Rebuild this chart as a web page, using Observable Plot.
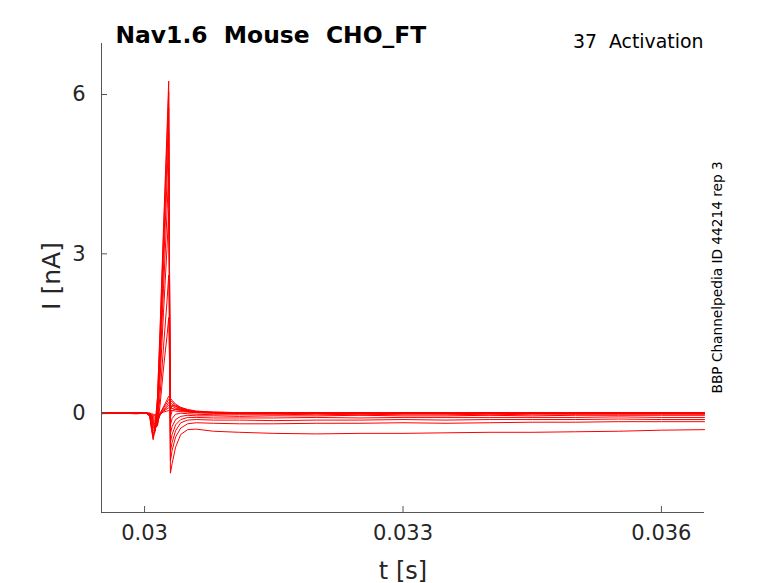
<!DOCTYPE html>
<html><head><meta charset="utf-8">
<script src="https://cdn.jsdelivr.net/npm/d3@7"></script>
<script src="https://cdn.jsdelivr.net/npm/@observablehq/plot@0.6"></script>
<style>
body{margin:0;background:#fff;}
svg text{white-space:pre;}
</style></head><body><div id="chart"></div>
<script>
// time samples (s)
const times = [0.0295, 0.0297, 0.0299, 0.03002, 0.03006, 0.03008, 0.03010, 0.03012, 0.03015, 0.03018,
  0.03022, 0.03026, 0.03028, 0.03030, 0.03032, 0.03036, 0.03042, 0.0305, 0.0306, 0.0308,
  0.0311, 0.0315, 0.0320, 0.0325, 0.0330, 0.0335, 0.0340, 0.0345, 0.0350, 0.0355, 0.0360, 0.0365];

// current traces (nA), one per voltage step
const traceA = [0.00, 0.01, -0.01, 0.00, -0.06, -0.30, -0.50, -0.30, 0.30, 1.60, 3.50, 5.30, 6.25, -1.13, -0.95, -0.64, -0.40, -0.31, -0.30, -0.34, -0.36, -0.38, -0.39, -0.38, -0.38, -0.37, -0.36, -0.36, -0.35, -0.34, -0.32, -0.31];
const traceB = [0.01, 0.00, 0.00, 0.01, -0.05, -0.28, -0.47, -0.28, 0.28, 1.50, 3.35, 5.10, 6.05, -0.90, -0.70, -0.45, -0.28, -0.20, -0.18, -0.19, -0.20, -0.20, -0.19, -0.19, -0.18, -0.19, -0.18, -0.17, -0.17, -0.16, -0.16, -0.16];
const traceC = [0.00, 0.00, 0.01, 0.00, -0.05, -0.25, -0.43, -0.32, 0.15, 1.30, 3.05, 4.75, 5.75, -0.72, -0.55, -0.33, -0.18, -0.13, -0.12, -0.13, -0.13, -0.14, -0.13, -0.13, -0.12, -0.13, -0.12, -0.12, -0.12, -0.11, -0.12, -0.12];
const traceD = [-0.01, 0.00, 0.00, 0.00, -0.03, -0.20, -0.38, -0.34, 0.05, 1.10, 2.75, 4.35, 5.30, -0.55, -0.40, -0.22, -0.12, -0.08, -0.08, -0.09, -0.09, -0.09, -0.08, -0.09, -0.08, -0.08, -0.08, -0.08, -0.08, -0.07, -0.08, -0.08];
const traceE = [0.00, 0.01, 0.00, 0.00, -0.03, -0.16, -0.32, -0.36, -0.05, 0.90, 2.35, 3.75, 4.60, -0.38, -0.25, -0.12, -0.06, -0.04, -0.05, -0.05, -0.06, -0.05, -0.05, -0.04, -0.05, -0.05, -0.04, -0.05, -0.04, -0.04, -0.04, -0.04];
const traceF = [0.00, 0.00, -0.01, 0.00, -0.02, -0.12, -0.25, -0.33, -0.15, 0.65, 1.90, 3.10, 3.80, -0.22, -0.10, -0.02, 0.00, -0.01, -0.02, -0.03, -0.03, -0.03, -0.02, -0.03, -0.02, -0.02, -0.03, -0.02, -0.02, -0.02, -0.02, -0.02];
const traceG = [0.01, 0.00, 0.00, 0.01, -0.02, -0.10, -0.20, -0.30, -0.22, 0.35, 1.25, 2.10, 2.60, -0.08, 0.05, 0.08, 0.06, 0.03, 0.01, 0.00, -0.01, -0.01, 0.00, -0.01, 0.00, -0.01, 0.00, 0.00, -0.01, 0.00, 0.00, -0.01];
const traceH = [0.00, 0.00, 0.00, 0.00, -0.02, -0.08, -0.16, -0.26, -0.24, 0.15, 0.85, 1.45, 1.80, 0.05, 0.15, 0.13, 0.09, 0.05, 0.02, 0.01, 0.00, 0.01, 0.00, 0.00, 0.01, 0.00, 0.01, 0.00, 0.00, 0.01, 0.00, 0.00];
const traceI = [0.00, 0.01, 0.00, 0.00, -0.01, -0.06, -0.13, -0.21, -0.20, 0.00, 0.12, 0.25, 0.32, 0.28, 0.24, 0.17, 0.11, 0.07, 0.04, 0.02, 0.01, 0.00, 0.01, 0.00, 0.00, 0.01, 0.00, 0.01, 0.00, 0.00, 0.01, 0.00];
const traceJ = [0.00, 0.00, 0.01, 0.00, -0.01, -0.05, -0.10, -0.16, -0.17, -0.03, 0.10, 0.20, 0.26, 0.24, 0.21, 0.15, 0.10, 0.06, 0.03, 0.02, 0.01, 0.00, 0.00, 0.01, 0.00, 0.00, 0.01, 0.00, 0.00, 0.01, 0.00, 0.01];
const traceK = [0.01, 0.00, 0.00, 0.00, -0.01, -0.04, -0.08, -0.12, -0.13, -0.04, 0.07, 0.15, 0.20, 0.19, 0.17, 0.13, 0.08, 0.05, 0.03, 0.01, 0.00, 0.01, 0.00, 0.00, 0.01, 0.00, 0.00, 0.00, 0.01, 0.00, 0.00, 0.00];
const traceL = [0.00, 0.00, 0.00, 0.01, -0.01, -0.03, -0.06, -0.08, -0.09, -0.03, 0.05, 0.11, 0.15, 0.15, 0.13, 0.10, 0.07, 0.04, 0.02, 0.01, 0.00, 0.00, 0.01, 0.00, 0.00, 0.00, 0.01, 0.00, 0.00, 0.00, 0.01, 0.00];
const traceM = [0.00, 0.01, 0.00, 0.00, 0.00, -0.02, -0.04, -0.05, -0.06, -0.02, 0.04, 0.08, 0.10, 0.10, 0.09, 0.07, 0.05, 0.03, 0.02, 0.01, 0.00, 0.00, 0.00, 0.01, 0.00, 0.00, 0.00, 0.00, 0.00, 0.01, 0.00, 0.00];
const traceN = [0.00, 0.00, 0.00, 0.00, 0.00, -0.01, -0.02, -0.03, -0.03, -0.01, 0.02, 0.04, 0.05, 0.05, 0.05, 0.04, 0.03, 0.02, 0.01, 0.00, 0.00, 0.00, 0.00, 0.00, 0.00, 0.00, 0.00, 0.00, 0.00, 0.00, 0.00, 0.00];

const traceNames = ["A","B","C","D","E","F","G","H","I","J","K","L","M","N"];
const traceValues = [traceA, traceB, traceC, traceD, traceE, traceF, traceG, traceH, traceI, traceJ, traceK, traceL, traceM, traceN];

const xTicks = [0.03, 0.033, 0.036];
const xTickLabels = ["0.03", "0.033", "0.036"];
const yTicks = [0, 3, 6];
const yTickLabels = ["0", "3", "6"];
const xDomain = [0.0295, 0.0365];
const yDomain = [-1.87, 6.96];

const titleText = "Nav1.6  Mouse  CHO_FT";
const protocolText = "37  Activation";
const sourceText = "BBP Channelpedia ID 44214 rep 3";
const xLabel = "t [s]";
const yLabel = "I [nA]";

const rows = traceValues.flatMap((vals, k) =>
  vals.map((v, j) => ({trace: traceNames[k], t: times[j], i: v})));

const chart = Plot.plot({
  width: 778,
  height: 583,
  marginLeft: 101,
  marginRight: 74,
  marginTop: 43,
  marginBottom: 71,
  x: {domain: xDomain},
  y: {domain: yDomain},
  style: {fontFamily: "'DejaVu Sans', sans-serif", color: "#262626", background: "#fff"},
  marks: [
    Plot.line(rows, {x: "t", y: "i", z: "trace", stroke: "#ff0000", strokeWidth: 1}),
    Plot.ruleX([xDomain[0]], {stroke: "#555", strokeWidth: 1}),
    Plot.ruleY([yDomain[0]], {stroke: "#555", strokeWidth: 1}),
    Plot.axisX({ticks: xTicks, tickFormat: (d) => xTickLabels[xTicks.indexOf(d)], tickSize: -6, tickPadding: 19, fontSize: 21, label: null, stroke: "#555", fill: "#262626"}),
    Plot.axisY({ticks: yTicks, tickFormat: (d) => yTickLabels[yTicks.indexOf(d)], tickSize: -6, tickPadding: 22, fontSize: 21, label: null, stroke: "#555", fill: "#262626"}),
    Plot.text([xLabel], {frameAnchor: "bottom", lineAnchor: "bottom", dy: 66, fontSize: 24, fill: "#262626"}),
    Plot.text([yLabel], {frameAnchor: "left", textAnchor: "middle", rotate: -90, dx: -50, dy: -2, fontSize: 25, fill: "#262626"}),
    Plot.text([titleText], {frameAnchor: "top-left", textAnchor: "start", lineAnchor: "bottom", dx: 14, dy: -1, fontSize: 23.4, fontWeight: "bold", fill: "#000"}),
    Plot.text([protocolText], {frameAnchor: "top-right", textAnchor: "end", lineAnchor: "bottom", dx: -1, dy: 4, fontSize: 18.9, fill: "#000"}),
    Plot.text([sourceText], {frameAnchor: "right", textAnchor: "start", rotate: -90, dx: 13, dy: 115.5, fontSize: 13.7, fill: "#000"})
  ]
});
document.getElementById("chart").appendChild(chart);
</script></body></html>
